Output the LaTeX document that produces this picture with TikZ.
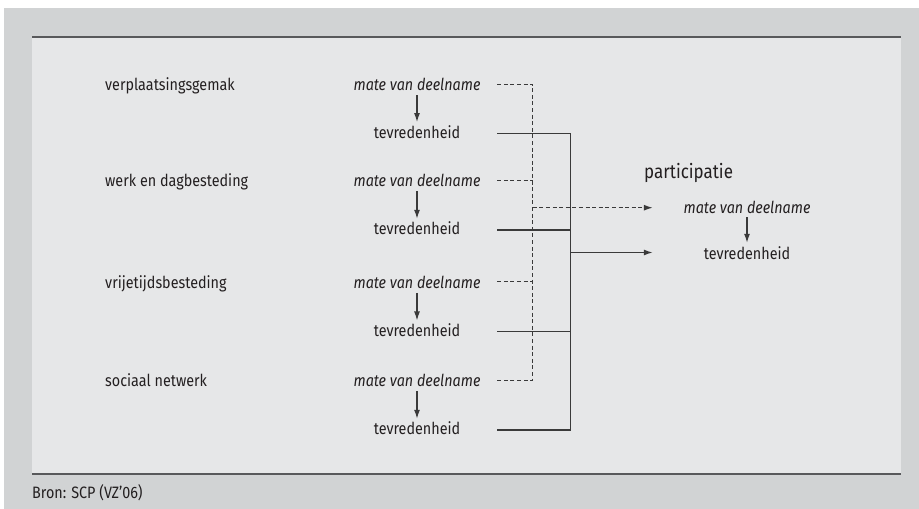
\documentclass[tikz,border=0pt]{standalone}
\usepackage{fontspec}
\setmainfont{Fira Sans}[FakeStretch=0.87]
\usetikzlibrary{arrows.meta}
\definecolor{outergray}{HTML}{D1D3D4}
\definecolor{innergray}{HTML}{E6E7E8}
\definecolor{borderline}{HTML}{58595B}
\definecolor{ink}{HTML}{231F20}
\definecolor{wire}{HTML}{3A3A3A}
\tikzset{
  lbl/.style={inner sep=0pt, anchor=base west, text=ink, font=\fontsize{16.5}{18}\selectfont},
  matebox/.style={inner sep=0pt, anchor=base, minimum width=160pt, text=ink,
     text height=17.5pt, text depth=4.5pt, font=\fontsize{16.5}{18}\selectfont\itshape},
  tevrbox/.style={inner sep=0pt, anchor=base, minimum width=160pt, text=ink,
     text height=16pt, text depth=6pt, font=\fontsize{16.5}{18}\selectfont},
  rmatebox/.style={inner sep=0pt, anchor=base, minimum width=188pt, text=ink,
     text height=15.6pt, text depth=3pt, font=\fontsize{16.5}{18}\selectfont\itshape},
  rtevrbox/.style={inner sep=0pt, anchor=base, minimum width=188pt, text=ink,
     text height=16.3pt, text depth=2.7pt, font=\fontsize{16.5}{18}\selectfont},
  tip/.style={-{Latex[length=9pt,width=6pt]}},
  solidwire/.style={draw=wire, line width=1.3pt},
  dashwire/.style={draw=wire, line width=1.2pt, dash pattern=on 4pt off 2.6pt},
}
\begin{document}
\begin{tikzpicture}[x=1pt,y=1pt]
\useasboundingbox (0,0) rectangle (919,509);
\fill[white] (0,0) rectangle (919,509);
\fill[outergray] (4,0) rectangle (919,501);
\fill[innergray] (32,35) rectangle (901,472);
\draw[borderline, line width=2pt] (32,472) -- (901,472);
\draw[borderline, line width=2pt] (32,35) -- (901,35);

% left labels
\node[lbl] (l1) at (105,{509-90.5}) {verplaatsingsgemak};
\node[lbl] (l2) at (105,{509-187}) {werk en dagbesteding};
\node[lbl] (l3) at (105,{509-288.3}) {vrijetijdsbesteding};
\node[lbl] (l4) at (105,{509-387}) {sociaal netwerk};

% mate / tevredenheid pairs
\node[matebox] (m1) at (417,{509-90.7}) {mate van deelname};
\node[tevrbox] (t1) at (417,{509-138.3}) {tevredenheid};
\node[matebox] (m2) at (417,{509-186.7}) {mate van deelname};
\node[tevrbox] (t2) at (417,{509-235}) {tevredenheid};
\node[matebox] (m3) at (417,{509-288.3}) {mate van deelname};
\node[tevrbox] (t3) at (417,{509-336.7}) {tevredenheid};
\node[matebox] (m4) at (417,{509-386.7}) {mate van deelname};
\node[tevrbox] (t4) at (417,{509-435}) {tevredenheid};

\foreach \i in {1,2,3,4} \draw[solidwire, tip] (m\i.south) -- (t\i.north);

% right side
\node[lbl, font=\fontsize{19.5}{22}\selectfont] (part) at (644,{509-178.3}) {participatie};
\node[rmatebox] (rm) at (747,{509-214}) {mate van deelname};
\node[rtevrbox] (rt) at (747,{509-259.3}) {tevredenheid};
\draw[solidwire, tip] (rm.south) -- (rt.north);

% junction coordinates
\coordinate (jd) at (532.7,0);
\coordinate (jt) at (570.3,0);

% dashed collection
\draw[dashwire] (m1.east) -- (m1.east -| jd) -- (m4.east -| jd) -- (m4.east);
\draw[dashwire] (m2.east) -- (m2.east -| jd);
\draw[dashwire] (m3.east) -- (m3.east -| jd);
\draw[dashwire, tip] (rm.west -| jd) -- (rm.west);

% solid collection
\draw[solidwire] (t1.east) -- (t1.east -| jt) -- (t4.east -| jt) -- (t4.east);
\draw[solidwire] (t2.east) -- (t2.east -| jt);
\draw[solidwire] (t3.east) -- (t3.east -| jt);
\draw[solidwire, tip] (rt.west -| jt) -- (rt.west);

% source
\node[lbl] (bron) at (32,10) {Bron: SCP (VZ'06)};
\end{tikzpicture}
\end{document}
